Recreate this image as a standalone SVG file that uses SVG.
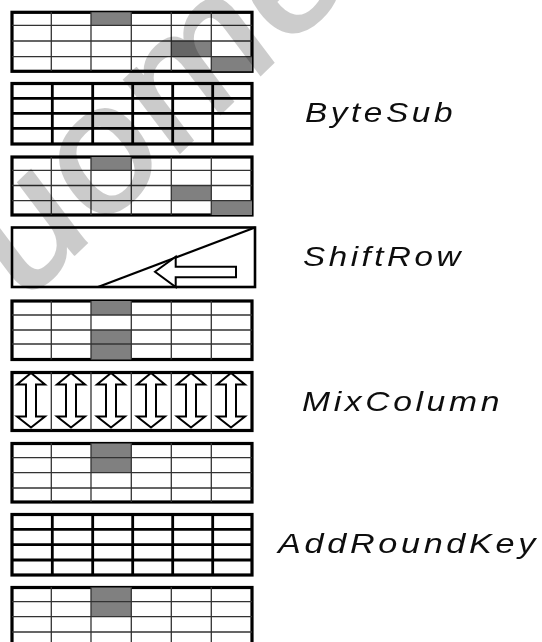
<svg xmlns="http://www.w3.org/2000/svg" width="542" height="642" viewBox="0 0 542 642">
<style>
.o{fill:#fff;stroke:#000;stroke-width:3.2}
.f{fill:#808080}
.t{stroke:#333;stroke-width:1.3;fill:none}
.k{stroke:#000;stroke-width:2.8;fill:none}
.a{fill:#fff;stroke:#000;stroke-width:2}
.l{font-family:"Liberation Sans",Arial,sans-serif;font-style:italic;font-size:28px;letter-spacing:3px;fill:#111}
.w{font-family:"Liberation Sans",Arial,sans-serif;font-size:170px;letter-spacing:2px;fill:#000;stroke:#000;stroke-width:3.5;opacity:.2}
</style>
<defs>
<path id="da" class="a" d="M0 373L14 384.5H5V416.5H14L0 427.5L-14 416.5H-5V384.5H-14Z"/>
<filter id="soft" x="0" y="0" width="100%" height="100%"><feGaussianBlur stdDeviation="0.35"/></filter>
</defs>
<rect width="542" height="642" fill="#fff"/>
<g filter="url(#soft)">
<g id="state1"><rect class="o" x="12" y="12.3" width="240" height="59"/><path class="f" d="M91 12.3h40v13h-40zM171.3 41h40v15.7h-40zM211.3 56.7h40.7v14.6h-40.7z"/><path class="t" d="M51.3 12V71M91 12V71M131.3 12V71M171.3 12V71M211.3 12V71M12 25.3H252M12 41H252M12 56.7H252"/></g>
<g id="bytesub"><rect class="o" x="12" y="83.5" width="240" height="60.5"/><path class="k" d="M52.3 83V144M92.7 83V144M132.7 83V144M172.7 83V144M212.7 83V144M12 98.3H252M12 113.3H252M12 128.3H252"/></g>
<g id="state2"><rect class="o" x="12" y="157" width="240" height="58"/><path class="f" d="M91 157h40v13.3h-40zM171.3 185.5h40v15.2h-40zM211.3 200.7h40.7v14.3h-40.7z"/><path class="t" d="M51.3 157V215M91 157V215M131.3 157V215M171.3 157V215M211.3 157V215M12 170.3H252M12 185.5H252M12 200.7H252"/></g>
<g id="shiftrow"><rect x="12" y="227.5" width="243" height="59.5" fill="#fff" stroke="#000" stroke-width="2.6"/><path d="M98 287L255 227.5" stroke="#000" stroke-width="2.2" fill="none"/><path class="a" d="M155 271.7L175.7 256.7V266.7H236V277.3H175.7V287Z"/></g>
<g id="state3"><rect class="o" x="12" y="301" width="240" height="58.5"/><path class="f" d="M91 301h40v14h-40zM91 330h40v29.5h-40z"/><path class="t" d="M51.3 301V359.5M91 301V359.5M131.3 301V359.5M171.3 301V359.5M211.3 301V359.5M12 315H252M12 330H252M12 344H252"/></g>
<g id="mixcolumn"><rect class="o" x="12" y="372.5" width="240" height="58"/><path class="t" d="M51.3 372V430M91 372V430M131.3 372V430M171.3 372V430M211.3 372V430"/><use href="#da" x="31"/><use href="#da" x="71"/><use href="#da" x="111"/><use href="#da" x="151"/><use href="#da" x="191"/><use href="#da" x="231"/></g>
<g id="state4"><rect class="o" x="12" y="443.5" width="240" height="58.5"/><path class="f" d="M91 443.5h40v29.2h-40z"/><path class="t" d="M51.3 443V502M91 443V502M131.3 443V502M171.3 443V502M211.3 443V502M12 457.7H252M12 472.7H252M12 488H252"/></g>
<g id="addroundkey"><rect class="o" x="12" y="514.5" width="240" height="60.5"/><path class="k" d="M52.3 514V575M92.7 514V575M132.7 514V575M172.7 514V575M212.7 514V575M12 529.3H252M12 544.7H252M12 560H252"/></g>
<g id="state5"><rect class="o" x="12" y="587.5" width="240" height="59"/><path class="f" d="M91 587.5h40v29.2h-40z"/><path class="t" d="M51.3 587V646M91 587V646M131.3 587V646M171.3 587V646M211.3 587V646M12 601.7H252M12 616.7H252M12 632H252"/></g>
<g id="labels">
<text class="l" x="305" y="121.5" textLength="151" lengthAdjust="spacingAndGlyphs">ByteSub</text>
<text class="l" x="303" y="266" textLength="161" lengthAdjust="spacingAndGlyphs">ShiftRow</text>
<text class="l" x="302" y="411" textLength="201" lengthAdjust="spacingAndGlyphs">MixColumn</text>
<text class="l" x="278" y="553" textLength="261" lengthAdjust="spacingAndGlyphs">AddRoundKey</text>
</g>
<text id="watermark" class="w" transform="translate(-76 399) rotate(-44) skewX(-7) scale(1.08 1)">Duome</text>
</g>
<g id="connectors"/>
</svg>
